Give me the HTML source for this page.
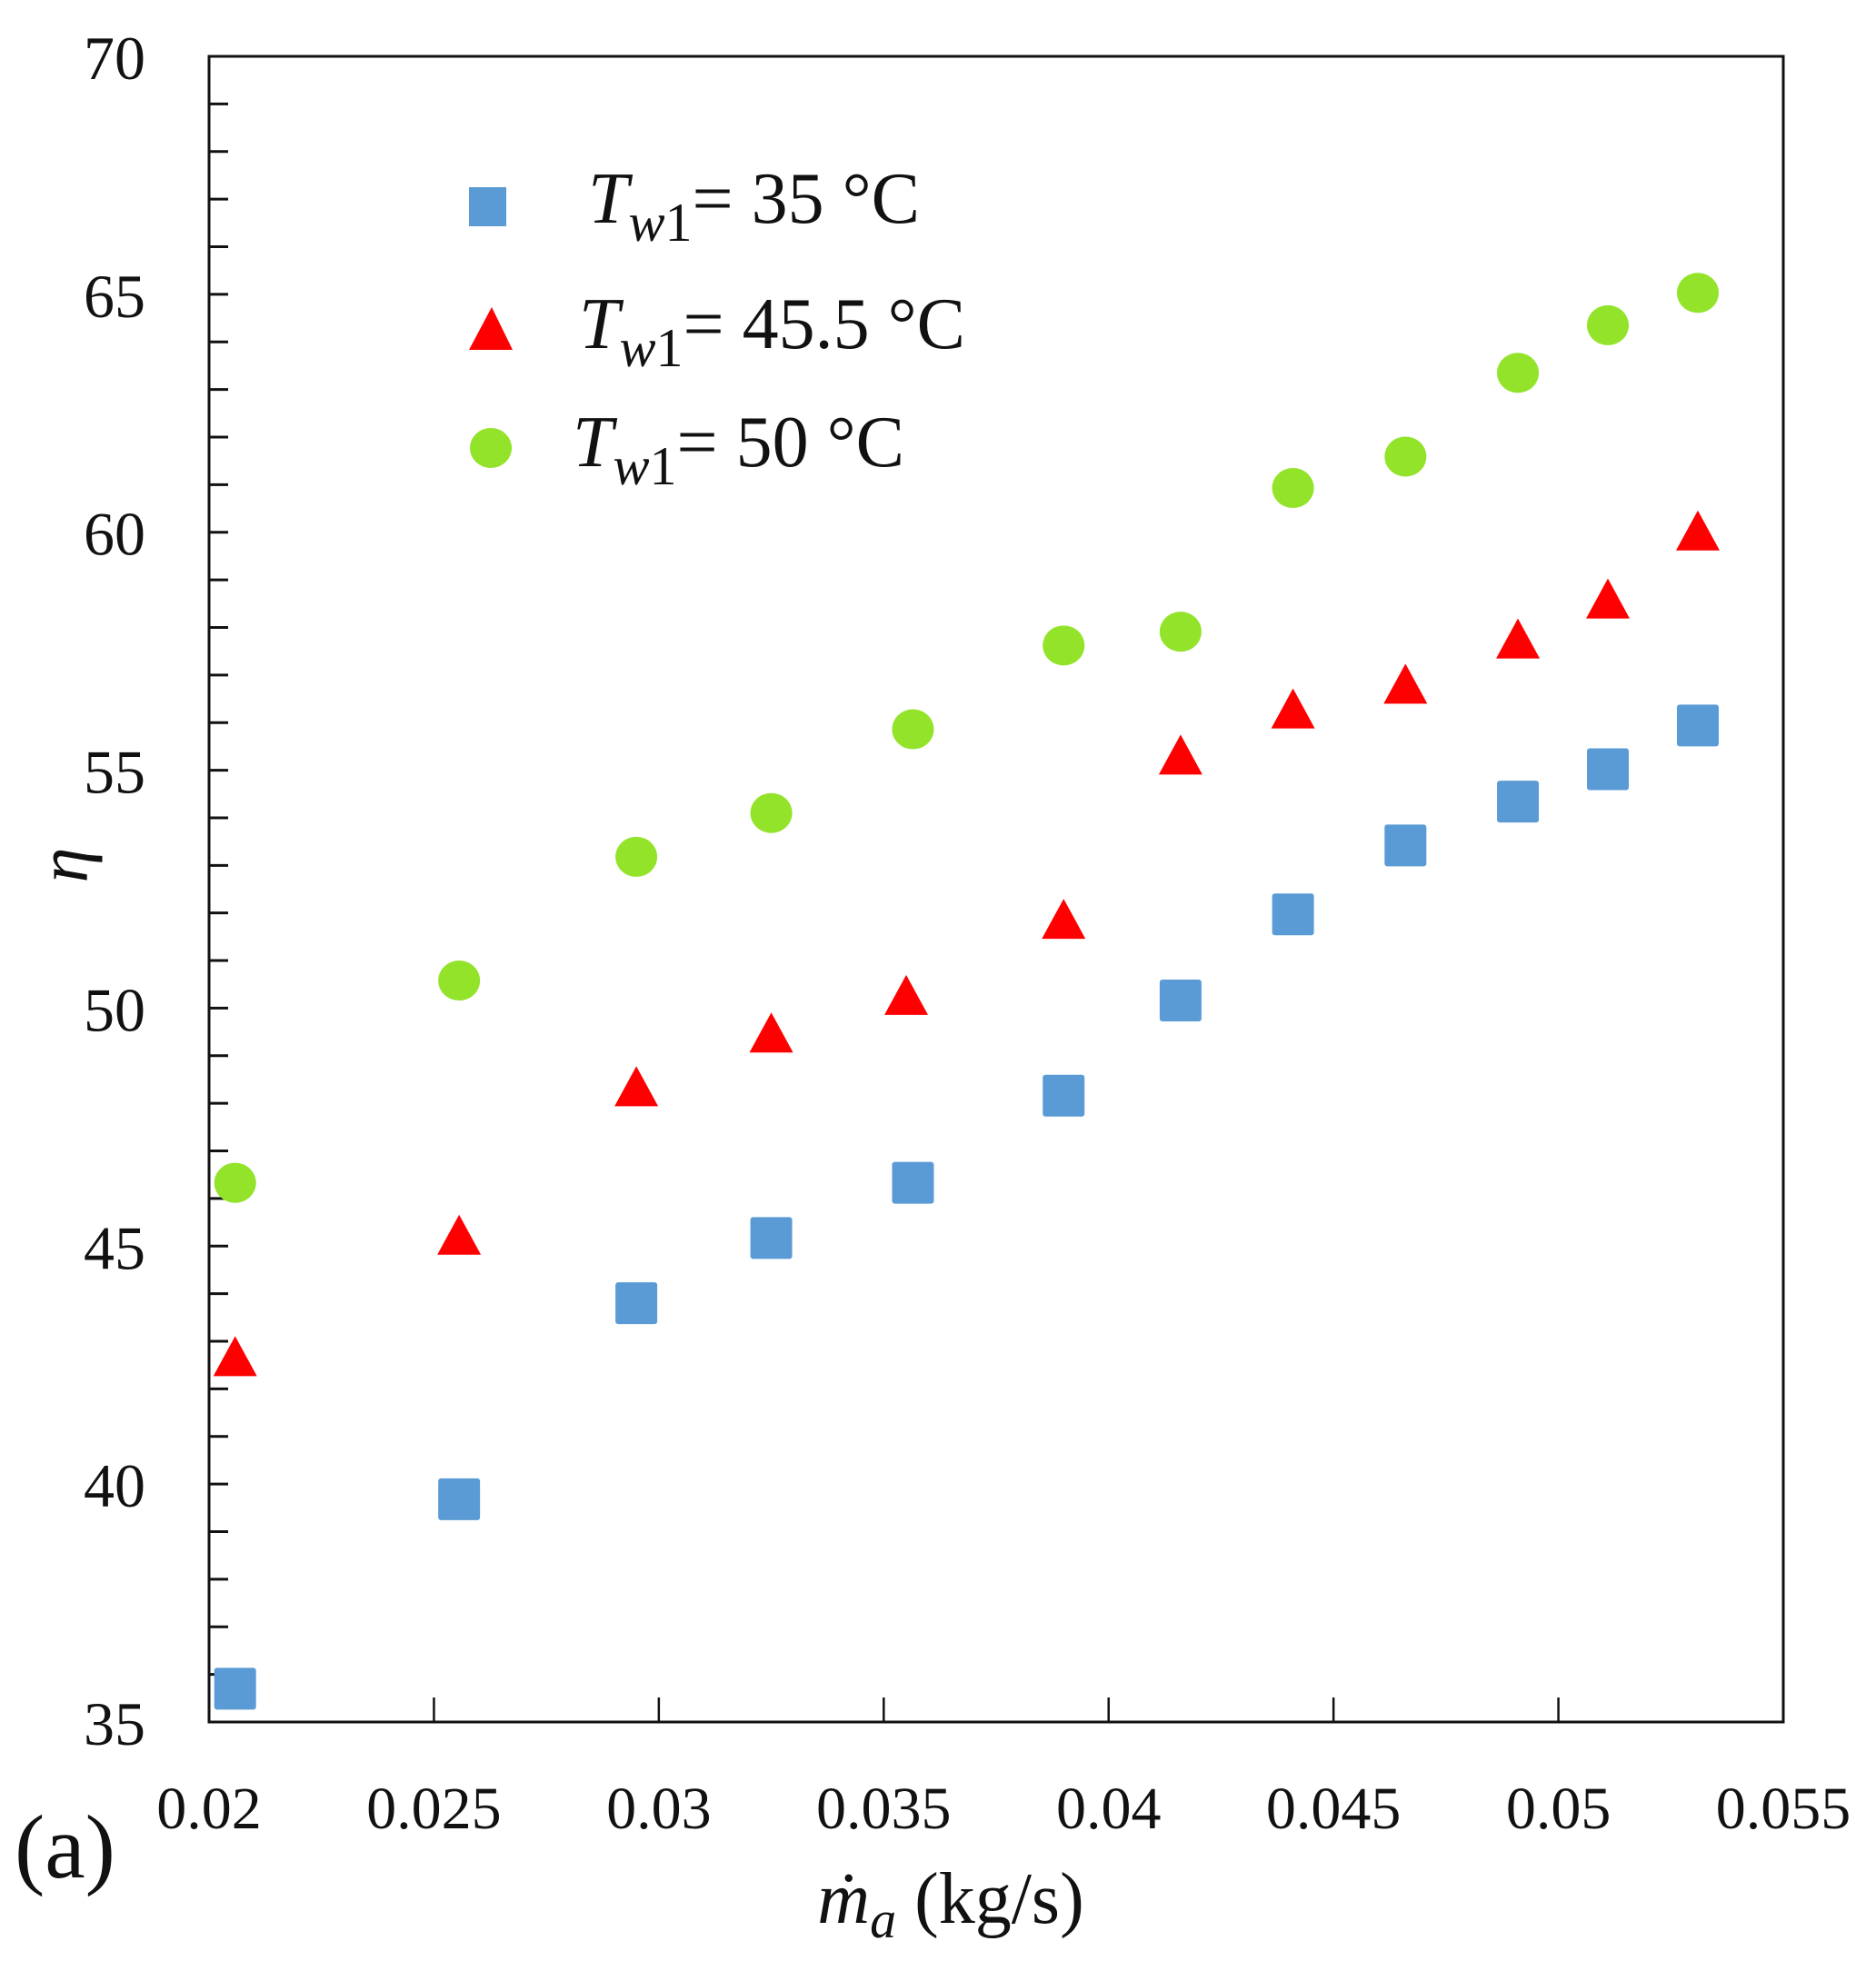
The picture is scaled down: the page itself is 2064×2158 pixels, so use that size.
<!DOCTYPE html>
<html><head><meta charset="utf-8"><style>
html,body{margin:0;padding:0;background:#fff;}
svg{display:block;}
text{font-family:"Liberation Serif",serif;fill:#111;}
</style></head><body>
<svg id="chart" width="2064" height="2158" viewBox="0 0 2064 2158">
<g id="plot"></g>
</svg>
<script>
const xVals = [0.02058,0.02556,0.0295,0.0325,0.03565,0.0390,0.0416,0.0441,0.0466,0.0491,0.0511,0.0531];
const xValsTri = [0.02058,0.02556,0.0295,0.0325,0.0355,0.0390,0.0416,0.0441,0.0466,0.0491,0.0511,0.0531];
const seriesSquare = [35.7,39.68,43.8,45.17,46.33,48.16,50.16,51.97,53.42,54.34,55.02,55.94];
const seriesTriangle = [42.65,45.2,48.32,49.45,50.24,51.84,55.29,56.26,56.78,57.73,58.57,60.0];
const seriesCircle = [46.33,50.58,53.18,54.1,55.86,57.62,57.91,60.93,61.59,63.35,64.35,65.03];
const xTicks = [0.02,0.025,0.03,0.035,0.04,0.045,0.05,0.055];
const xTickLabels = ["0.02","0.025","0.03","0.035","0.04","0.045","0.05","0.055"];
const yTicks = [35,40,45,50,55,60,65,70];
const yTickLabels = ["35","40","45","50","55","60","65","70"];

const L=230,R=1962,T=62,B=1895;
const X0=0.02,X1=0.055,Y0=35,Y1=70;
function sx(v){return L+(v-X0)/(X1-X0)*(R-L);}
function sy(v){return B-(v-Y0)/(Y1-Y0)*(B-T);}
const NS="http://www.w3.org/2000/svg";
const svg=document.getElementById('chart');
function mk(tag,attrs,parent){const e=document.createElementNS(NS,tag);for(const k in attrs)e.setAttribute(k,attrs[k]);(parent||svg).appendChild(e);return e;}

const frame=mk('rect',{x:L,y:T,width:R-L,height:B-T,fill:'none',stroke:'#111','stroke-width':3});



for(let v=Y0+1;v<Y1;v++){
  const t=mk('line',{x1:L,x2:L+21,y1:sy(v),y2:sy(v),stroke:'#111','stroke-width':3});
  
  
}
yTicks.forEach((v,i)=>{
  const t=mk('text',{x:160,y:sy(v)+25,'font-size':68,'text-anchor':'end'});
  t.textContent=yTickLabels[i];
  
  
});
xTicks.forEach((v,i)=>{
  if(i>0&&i<xTicks.length-1){
    const t=mk('line',{x1:sx(v),x2:sx(v),y1:B,y2:B-27,stroke:'#111','stroke-width':2.5});
    
    
  }
  const lb=mk('text',{x:sx(v),y:2012,'font-size':66,'text-anchor':'middle'});
  lb.textContent=xTickLabels[i];
  
  
});

xVals.forEach((x,i)=>{
  const s=mk('rect',{x:sx(x)-23,y:sy(seriesSquare[i])-23,width:46,height:46,rx:3,fill:'#5b9bd5'});
  
  
});
xValsTri.forEach((x,i)=>{
  const cx=sx(x),cy=sy(seriesTriangle[i]);
  const p=mk('polygon',{points:`${cx},${cy-24} ${cx+24},${cy+20} ${cx-24},${cy+20}`,fill:'#ff0000'});
  
  
});
xVals.forEach((x,i)=>{
  const c=mk('ellipse',{cx:sx(x),cy:sy(seriesCircle[i]),rx:23,ry:22,fill:'#92e32a'});
  
  
});

const lg=mk('g',{});


const m1=mk('rect',{x:516,y:206,width:41,height:43,fill:'#5b9bd5'},lg);


const m2=mk('polygon',{points:'541,338 564,385 516,385',fill:'#ff0000'},lg);


const m3=mk('ellipse',{cx:540,cy:493,rx:23,ry:22,fill:'#92e32a'},lg);


const entries=[[647,245,'35 °C'],[637,383,'45.5 °C'],[630,513,'50 °C']];
entries.forEach(e=>{
  const t=mk('text',{x:e[0],y:e[1],'font-size':80},lg);
  t.innerHTML='<tspan font-style="italic">T</tspan><tspan font-style="italic" font-size="60" dy="20">w</tspan><tspan font-size="60">1</tspan><tspan dy="-20">= '+e[2]+'</tspan>';
  
  
});

const yt=mk('text',{x:0,y:0,'font-size':78,'font-style':'italic','text-anchor':'middle',transform:'translate(96,952) rotate(-90)'});
yt.textContent='η';


const xt=mk('text',{x:1046,y:2116,'font-size':80,'text-anchor':'middle'});
xt.innerHTML='<tspan font-style="italic">ṁ</tspan><tspan font-style="italic" font-size="58" dy="16">a</tspan><tspan dy="-16"> (kg/s)</tspan>';


const pa=mk('text',{x:16,y:2066,'font-size':100});
pa.textContent='(a)';


</script>
</body></html>
